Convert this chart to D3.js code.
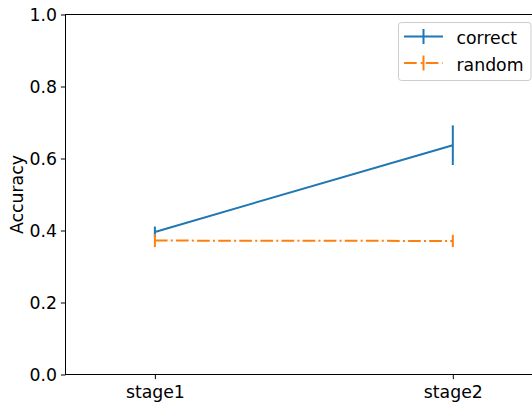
<!DOCTYPE html>
<html>
<head>
<meta charset="utf-8">
<script src="https://cdn.jsdelivr.net/npm/d3@7"></script>
<style>
html,body{margin:0;padding:0;background:#fff;}
svg{display:block;}
text{font-family:"DejaVu Sans",sans-serif;}
</style>
</head>
<body>
<svg id="c" width="532" height="402"></svg>
<script>
const categories = ["stage1", "stage2"];
const seriesNames = ["correct", "random"];
const correctValues = [0.396, 0.637];
const correctErrors = [0.015, 0.055];
const randomValues = [0.372, 0.371];
const randomErrors = [0.018, 0.017];
const yTicks = [0.0, 0.2, 0.4, 0.6, 0.8, 1.0];

const colors = ["#1f77b4", "#ff7f0e"];
const dashes = [null, "12.7,3.2,2,3.2"];
const FS = 17.3;
const series = [
  {name: seriesNames[0], values: correctValues, errors: correctErrors},
  {name: seriesNames[1], values: randomValues, errors: randomErrors}
];

const svg = d3.select("#c");
const mLeft = 65.5, mTop = 14.5, mBottom = 374.5;
const x = d3.scaleLinear().domain([-0.3, 1.3]).range([mLeft, 542.2]);
const y = d3.scaleLinear().domain([0, 1]).range([mBottom, mTop]);

// series
series.forEach((s, si) => {
  const g = svg.append("g");
  const pts = s.values.map((v, i) => [x(i), y(v)]);
  g.append("path")
    .attr("d", d3.line()(pts))
    .attr("fill", "none")
    .attr("stroke", colors[si])
    .attr("stroke-width", 2)
    .attr("stroke-dasharray", dashes[si]);
  s.values.forEach((v, i) => {
    g.append("line")
      .attr("x1", x(i)).attr("x2", x(i))
      .attr("y1", y(v - s.errors[i])).attr("y2", y(v + s.errors[i]))
      .attr("stroke", colors[si]).attr("stroke-width", 2);
  });
});

// axes
const yAxis = d3.axisLeft(y).tickValues(yTicks).tickFormat(d3.format(".1f")).tickSize(4.6).tickPadding(4);
const yg = svg.append("g").attr("transform", `translate(${mLeft},0)`).call(yAxis);
const xAxis = d3.axisBottom(x).tickValues([0, 1]).tickFormat((d) => categories[d]).tickSize(4.6).tickPadding(4);
const xg = svg.append("g").attr("transform", `translate(0,${mBottom})`).call(xAxis);
[yg, xg].forEach(g => {
  g.select(".domain").remove();
  g.selectAll(".tick line").attr("stroke", "#000").attr("stroke-width", 1);
  g.selectAll(".tick text").attr("font-size", FS).attr("fill", "#000").attr("font-family", "DejaVu Sans");
});
xg.selectAll(".tick text").attr("dy", "0.85em");

// spines
svg.append("rect")
  .attr("x", mLeft).attr("y", mTop)
  .attr("width", x.range()[1] - mLeft).attr("height", mBottom - mTop)
  .attr("fill", "none").attr("stroke", "#000").attr("stroke-width", 1);

// y label
svg.append("text")
  .attr("transform", `translate(23,${(mTop + mBottom) / 2}) rotate(-90)`)
  .attr("text-anchor", "middle")
  .attr("font-size", FS)
  .attr("fill", "#000")
  .text("Accuracy");

// legend
const lg = svg.append("g");
lg.append("rect")
  .attr("x", 398.5).attr("y", 22.5).attr("width", 132.5).attr("height", 58)
  .attr("rx", 3).attr("fill", "#fff").attr("fill-opacity", 0.8)
  .attr("stroke", "#cccccc").attr("stroke-width", 1);
series.forEach((s, si) => {
  const cy = 36.5 + si * 26.5;
  lg.append("line")
    .attr("x1", 404).attr("x2", 443).attr("y1", cy).attr("y2", cy)
    .attr("stroke", colors[si]).attr("stroke-width", 2)
    .attr("stroke-dasharray", si === 1 ? "12.7,4,2,3" : null);
  lg.append("line")
    .attr("x1", 423.5).attr("x2", 423.5).attr("y1", cy - 7.5).attr("y2", cy + 7.5)
    .attr("stroke", colors[si]).attr("stroke-width", 2);
  lg.append("text")
    .attr("x", 456.5).attr("y", cy + 7.8)
    .attr("font-size", FS).attr("fill", "#000")
    .text(s.name);
});
</script>
</body>
</html>
